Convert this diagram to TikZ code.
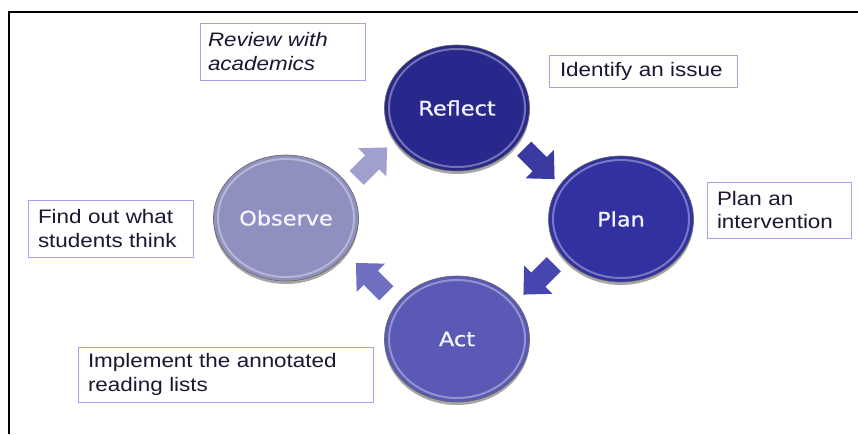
\documentclass[tikz,border=0pt]{standalone}
\usepackage{fontspec}
\setmainfont{Liberation Sans}[FakeStretch=1.15]
\newfontfamily\circfont{DejaVu Sans}[FakeStretch=1.12, FakeBold=0.7]
\usetikzlibrary{calc,shapes.geometric,shadows}
\definecolor{boxc}{HTML}{A9A1EE}
\definecolor{txtc}{HTML}{1E1530}
\definecolor{reflectc}{HTML}{28288C}
\definecolor{planc}{HTML}{3131A2}
\definecolor{actc}{HTML}{5A5AB6}
\definecolor{observec}{HTML}{9090C0}
\definecolor{aonec}{HTML}{A0A0CE}
\definecolor{atwoc}{HTML}{3A3AA0}
\definecolor{athreec}{HTML}{4646B0}
\definecolor{afourc}{HTML}{7070C2}
\tikzset{
  stage/.style={ellipse, minimum width=145pt, minimum height=126pt, inner sep=0pt,
    draw=black!60, line width=0.6pt,
    drop shadow={shadow xshift=0pt, shadow yshift=-3pt, opacity=0.35, fill=black},
    text=white!96!blue, font=\circfont\fontsize{20}{24}\selectfont},
  rim/.style={draw=white, opacity=0.35, line width=2pt},
  note/.style={draw=boxc, line width=1pt, rectangle, inner ysep=0pt, align=left,
    text=txtc, font=\fontsize{19.5}{23.5}\selectfont},
  blockarr/.pic={\fill[pic actions] (-21,-10)--(1,-10)--(1,-20)--(22,0)--(1,20)--(1,10)--(-21,10)--cycle;}
}
\begin{document}
\begin{tikzpicture}[x=1pt,y=-1pt]
\useasboundingbox (0,0) rectangle (858,434);
\fill[white] (0,0) rectangle (858,434);
% frame
\draw[line width=2pt] (9.3,434) -- (9.3,12) -- (858,12);
% stages
\node[stage, fill=reflectc] (reflect) at (457,108) {Reflect};
\node[stage, fill=planc] (plan) at (621,219) {Plan};
\node[stage, fill=actc] (act) at (457,339) {Act};
\node[stage, fill=observec] (observe) at (286,218) {Observe};
\foreach \n in {reflect,plan,act,observe}{
  \draw[rim] (\n.center) ellipse [x radius=68, y radius=59];
}
% block arrows
\pic[fill=aonec, rotate=45] at ($(observe)!0.5!(reflect)$) {blockarr};
\pic[fill=atwoc, rotate=-45] at ($(reflect)!0.5!(plan)$) {blockarr};
\pic[fill=athreec, rotate=-135] at ($(plan)!0.5!(act)$) {blockarr};
\pic[fill=afourc, rotate=135] at ($(act)!0.5!(observe)$) {blockarr};
% notes
\node[note, text width=149pt, inner xsep=8pt, minimum height=57pt] (nreflect) at (282.5,51.5) {\itshape Review with\\academics};
\node[note, text width=166pt, inner xsep=11pt, minimum height=32pt] (nplan0) at (643,71) {Identify an issue};
\node[note, text width=124pt, inner xsep=10pt, minimum height=56pt] (nplan) at (779,210) {Plan an\\intervention};
\node[note, text width=145pt, inner xsep=10pt, minimum height=57pt] (nobs) at (110.5,228.5) {Find out what\\students think};
\node[note, text width=275pt, inner xsep=10pt, minimum height=55pt] (nact) at (225.5,374.5) {Implement the annotated\\reading lists};
\end{tikzpicture}
\end{document}
